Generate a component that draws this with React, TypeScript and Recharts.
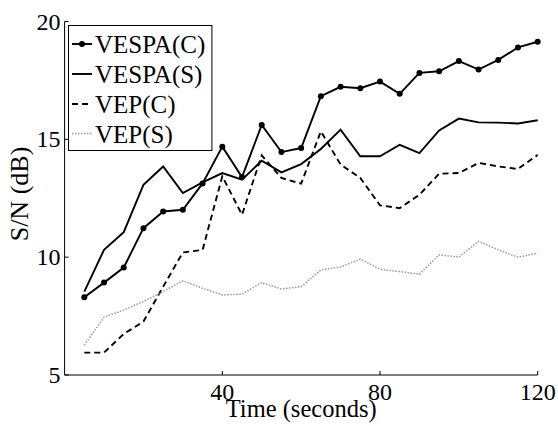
import React from 'react';
import { LineChart, Line, XAxis, YAxis, Legend } from 'recharts';

const time = [5, 10, 15, 20, 25, 30, 35, 40, 45, 50, 55, 60, 65, 70, 75, 80, 85, 90, 95, 100, 105, 110, 115, 120];
const vespaC = [8.3, 8.92, 9.56, 11.23, 11.94, 12.01, 13.13, 14.69, 13.4, 15.61, 14.46, 14.63, 16.83, 17.23, 17.17, 17.45, 16.93, 17.82, 17.89, 18.32, 17.96, 18.37, 18.9, 19.14];
const vespaS = [8.54, 10.31, 11.06, 13.07, 13.85, 12.72, 13.17, 13.57, 13.29, 14.09, 13.6, 13.95, 14.59, 15.41, 14.28, 14.28, 14.77, 14.42, 15.38, 15.88, 15.72, 15.71, 15.67, 15.81];
const vepC = [5.95, 5.95, 6.74, 7.27, 8.75, 10.2, 10.31, 13.43, 11.8, 14.32, 13.36, 13.12, 15.34, 13.93, 13.36, 12.2, 12.08, 12.65, 13.54, 13.57, 14.0, 13.85, 13.74, 14.34];
const vepS = [6.27, 7.45, 7.76, 8.12, 8.54, 9.0, 8.68, 8.4, 8.43, 8.92, 8.65, 8.75, 9.46, 9.58, 9.92, 9.49, 9.39, 9.28, 10.1, 10.0, 10.67, 10.31, 10.0, 10.17];

const xTicks = [40, 80, 120];
const yTicks = [5, 10, 15, 20];
const seriesNames = ['VESPA(C)', 'VESPA(S)', 'VEP(C)', 'VEP(S)'];
const xLabel = 'Time (seconds)';
const yLabel = 'S/N (dB)';

const data = time.map((t, i) => ({
  t,
  vespaC: vespaC[i],
  vespaS: vespaS[i],
  vepC: vepC[i],
  vepS: vepS[i],
}));

const FONT = 'Liberation Serif, Times New Roman, serif';

const styles = [
  { key: 'vespaC', stroke: '#000', width: 1.9, dash: undefined, dot: true },
  { key: 'vespaS', stroke: '#000', width: 1.9, dash: undefined, dot: false },
  { key: 'vepC', stroke: '#000', width: 1.9, dash: '6 4', dot: false },
  { key: 'vepS', stroke: '#999', width: 1.5, dash: '1.5 1.5', dot: false },
];

const XTick = (props: any) => {
  const { x, y, payload } = props;
  return (
    <g>
      <line x1={x} y1={y} x2={x} y2={y - 4} stroke="#000" strokeWidth={1} />
      <text x={x} y={y + 25} textAnchor="middle" style={{ fontFamily: FONT, fontSize: 24 }} fill="#000">
        {payload.value}
      </text>
    </g>
  );
};

const YTick = (props: any) => {
  const { x, y, payload } = props;
  return (
    <g>
      <line x1={x} y1={y} x2={x + 4} y2={y} stroke="#000" strokeWidth={1} />
      <text x={x - 4} y={y + 8} textAnchor="end" style={{ fontFamily: FONT, fontSize: 24 }} fill="#000">
        {payload.value}
      </text>
    </g>
  );
};

const XLabel = (props: any) => {
  const { viewBox } = props;
  return (
    <text x={viewBox.x + viewBox.width / 2} y={viewBox.y + 42} textAnchor="middle" style={{ fontFamily: FONT, fontSize: 24.5 }} fill="#000">
      {xLabel}
    </text>
  );
};

const YLabel = () => {
  const cx = 28;
  const cy = 194;
  return (
    <text x={cx} y={cy} transform={`rotate(-90 ${cx} ${cy})`} textAnchor="middle" style={{ fontFamily: FONT, fontSize: 26 }} fill="#000">
      {yLabel}
    </text>
  );
};

const LegendBox = () => {
  const rowY = [19, 49, 79, 108.5];
  return (
    <svg width={145} height={127} style={{ display: 'block' }}>
      <rect x={0.5} y={0.5} width={143.4} height={125} fill="#fff" stroke="#000" strokeWidth={1} />
      {styles.map((s, i) => (
        <g key={s.key}>
          <line x1={4} y1={rowY[i]} x2={24} y2={rowY[i]} stroke={s.stroke} strokeWidth={s.width} strokeDasharray={s.dash} />
          {s.dot && <circle cx={14} cy={rowY[i]} r={3} fill="#000" />}
          <text x={27} y={rowY[i] + 9} style={{ fontFamily: FONT, fontSize: 25 }} fill="#000">
            {seriesNames[i]}
          </text>
        </g>
      ))}
    </svg>
  );
};

export default function App() {
  return (
    <div style={{ position: 'absolute', left: 0, top: 0, background: '#fff' }}>
      <LineChart
        width={558}
        height={426}
        data={data}
        margin={{ top: 21.5, right: 20.3, bottom: 11, left: 14.6 }}
      >
        <XAxis
          dataKey="t"
          type="number"
          domain={[0, 120]}
          ticks={xTicks}
          interval={0}
          height={40}
          tickSize={0}
          tickMargin={0}
          tickLine={false}
          axisLine={{ stroke: '#000', strokeWidth: 1 }}
          tick={<XTick />}
          label={<XLabel />}
        />
        <YAxis
          type="number"
          domain={[5, 20]}
          ticks={yTicks}
          interval={0}
          width={50}
          tickSize={0}
          tickMargin={0}
          tickLine={false}
          axisLine={{ stroke: '#000', strokeWidth: 1 }}
          tick={<YTick />}
          label={<YLabel />}
        />
        <Legend
          layout="vertical"
          align="center"
          verticalAlign="middle"
          wrapperStyle={{ position: 'absolute', left: 68, top: 25, width: 145, height: 127 }}
          content={<LegendBox />}
        />
        {styles.map((s, i) => (
          <Line
            key={s.key}
            dataKey={s.key}
            name={seriesNames[i]}
            type="linear"
            stroke={s.stroke}
            strokeWidth={s.width}
            strokeDasharray={s.dash}
            dot={s.dot ? { r: 3, fill: '#000', stroke: '#000', strokeWidth: 0 } : false}
            activeDot={false}
            isAnimationActive={false}
          />
        ))}
      </LineChart>
    </div>
  );
}
